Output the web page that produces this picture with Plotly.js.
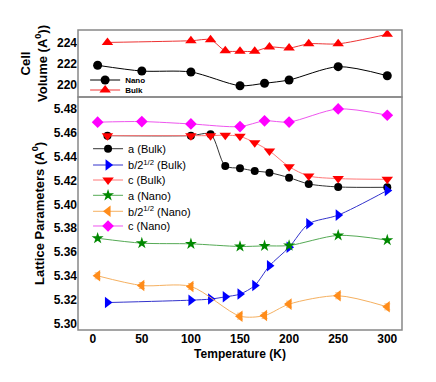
<!DOCTYPE html>
<html>
<head>
<meta charset="utf-8">
<script src="https://cdn.plot.ly/plotly-3.0.1.min.js"></script>
<style>
  html, body { margin: 0; padding: 0; background: #fff; }
  #chart { width: 436px; height: 382px; }
</style>
</head>
<body>
<div id="chart"></div>
<script>
// cell volume panel
const tNano = [5, 50, 100, 150, 175, 200, 250, 300];
const volNano = [221.88, 221.34, 221.25, 219.96, 220.19, 220.5, 221.75, 220.9];
const tBulk = [15, 100, 120, 135, 150, 165, 180, 200, 220, 250, 300];
const volBulk = [224.03, 224.19, 224.28, 223.25, 223.2, 223.2, 223.6, 223.5, 223.9, 223.9, 224.8];

// lattice parameters panel
const aBulk = [5.4576, 5.4576, 5.4588, 5.4322, 5.4303, 5.428, 5.4266, 5.4224, 5.4171, 5.4146, 5.4143];
const bBulk = [5.3177, 5.3197, 5.3206, 5.3225, 5.3248, 5.332, 5.3485, 5.364, 5.3837, 5.391, 5.4117];
const cBulk = [5.4576, 5.4576, 5.4576, 5.458, 5.457, 5.4517, 5.4448, 5.4316, 5.4238, 5.4216, 5.421];
const aNano = [5.3716, 5.3675, 5.3669, 5.3647, 5.3652, 5.3655, 5.374, 5.370];
const bNano = [5.3401, 5.332, 5.3312, 5.3063, 5.3068, 5.3164, 5.3234, 5.3141];
const bNanoErr = [0.0025, 0.0025, 0.0025, 0.0025, 0.0025, 0.0025, 0.0025, 0.0025];
const cNano = [5.4689, 5.4694, 5.4674, 5.4652, 5.470, 5.469, 5.480, 5.4747];

const font = 'Liberation Sans, Arial, sans-serif';

const mk = (x, y, name, yaxis, legend, lineColor, markColor, symbol, size) => ({
    x: x, y: y, name: name, yaxis: yaxis, legend: legend,
    type: 'scatter', mode: 'lines+markers',
    line: {color: lineColor, width: 1, shape: 'spline', smoothing: 0.8},
    marker: {color: markColor, symbol: symbol, size: size}
});

const data = [
    mk(tNano, volNano, 'Nano', 'y2', 'legend', '#000', '#000', 'circle', 9),
    mk(tBulk, volBulk, 'Bulk', 'y2', 'legend2', '#e33', '#f00', 'triangle-up', 10),
    mk(tBulk, aBulk, 'a (Bulk)', 'y', 'legend3', '#333', '#000', 'circle', 8),
    mk(tBulk, bBulk, 'b/2<sup>1/2</sup> (Bulk)', 'y', 'legend4', '#33c', '#00f', 'triangle-right', 10),
    mk(tBulk, cBulk, 'c (Bulk)', 'y', 'legend5', '#f77', '#f00', 'triangle-down', 10),
    mk(tNano, aNano, 'a (Nano)', 'y', 'legend6', '#5a5', '#080', 'star', 9),
    Object.assign(mk(tNano, bNano, 'b/2<sup>1/2</sup> (Nano)', 'y', 'legend7', '#f5b060', '#ff8c1a', 'triangle-left', 10),
        {error_y: {type: 'data', array: bNanoErr, color: '#f8c48a', thickness: 1, width: 3}}),
    mk(tNano, cNano, 'c (Nano)', 'y', 'legend8', '#e5e', '#f0f', 'diamond', 9)
];

const tickFont = {family: font, size: 12, color: '#000', weight: 'bold'};
const split = 0.7767;

// one legend box per entry so the rows can sit as tight as in the original
const leg = (x, y, size, weight) => ({
    x: x, y: y, xanchor: 'left', yanchor: 'middle',
    bgcolor: 'rgba(0,0,0,0)', itemwidth: 30,
    font: {family: font, size: size, weight: weight}
});

const layout = {
    width: 436, height: 382,
    margin: {l: 78, r: 34, t: 30, b: 52},
    paper_bgcolor: '#fff', plot_bgcolor: '#fff',
    font: {family: font, color: '#000'},
    showlegend: true,
    xaxis: {
        range: [-15, 315], tickvals: [0, 50, 100, 150, 200, 250, 300],
        showgrid: false, zeroline: false, showline: false, ticks: '',
        tickfont: tickFont, anchor: 'y',
        title: {text: 'Temperature (K)', font: {family: font, size: 12, weight: 'bold'}, standoff: 4}
    },
    yaxis: {
        domain: [0, split], range: [5.2947, 5.490],
        tickvals: [5.30, 5.32, 5.34, 5.36, 5.38, 5.40, 5.42, 5.44, 5.46, 5.48],
        tickformat: '.2f',
        showgrid: false, zeroline: false, showline: false, ticks: '',
        tickfont: tickFont,
        title: {text: 'Lattice Parameters (A<sup>0</sup>)', font: {family: font, size: 13, weight: 'bold'}, standoff: 6}
    },
    yaxis2: {
        domain: [split, 1], range: [218.9, 225.2], anchor: 'x',
        tickvals: [220, 222, 224],
        showgrid: false, zeroline: false, showline: false, ticks: '',
        tickfont: tickFont,
        title: {text: 'Cell<br>Volume (A<sup>0</sup>))', font: {family: font, size: 13, weight: 'bold'}, standoff: 6}
    },
    legend: leg(0.022, 0.8333, 8, 'bold'),
    legend2: leg(0.022, 0.80, 8, 'bold'),
    legend3: leg(0.031, 0.6043, 11, 'normal'),
    legend4: leg(0.031, 0.55, 11, 'normal'),
    legend5: leg(0.031, 0.50, 11, 'normal'),
    legend6: leg(0.031, 0.449, 11, 'normal'),
    legend7: leg(0.031, 0.3957, 11, 'normal'),
    legend8: leg(0.031, 0.3467, 11, 'normal'),
    shapes: [
        {type: 'rect', xref: 'paper', yref: 'paper', x0: 0, x1: 1, y0: 0, y1: split,
         line: {color: '#888', width: 1.5}},
        {type: 'rect', xref: 'paper', yref: 'paper', x0: 0, x1: 1, y0: split, y1: 1,
         line: {color: '#888', width: 1.5}}
    ]
};

Plotly.newPlot('chart', data, layout, {displayModeBar: false, staticPlot: true});
</script>
</body>
</html>
